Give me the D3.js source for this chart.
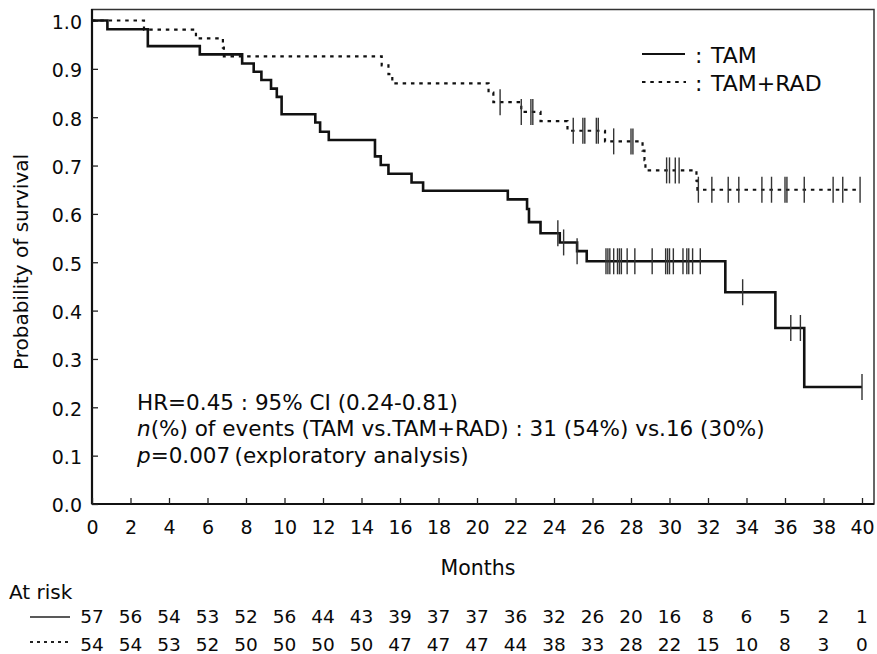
<!DOCTYPE html>
<html>
<head>
<meta charset="utf-8">
<script src="https://cdn.jsdelivr.net/npm/d3@7"></script>
<style>
  body { margin: 0; background: #fff; }
  svg text { font-family: "DejaVu Sans", sans-serif; fill: #0a0a0a; }
</style>
</head>
<body>
<svg id="chart" width="877" height="654"></svg>
<script>
// Kaplan-Meier steps
var tamTimes = [0, 0.8, 2.9, 5.6, 7.8, 8.4, 8.8, 9.3, 9.6, 9.85, 11.6, 11.85, 12.3, 14.7, 15.0, 15.4, 16.6, 17.2,
                21.6, 22.6, 22.7, 23.3, 24.3, 25.2, 25.7, 32.9, 35.5, 37.0, 40];
var tamSurv  = [1.0, 0.982, 0.947, 0.930, 0.911, 0.894, 0.877, 0.859, 0.842, 0.806, 0.789, 0.770, 0.753, 0.719, 0.701, 0.683, 0.665, 0.648,
                0.630, 0.610, 0.583, 0.560, 0.541, 0.523, 0.502, 0.438, 0.364, 0.242, 0.242];
var radTimes = [0, 2.7, 5.4, 6.8, 6.85, 15.05, 15.4, 15.6, 20.6, 20.85, 22.3, 23.3, 24.7, 26.65, 28.6, 28.7, 28.75, 31.4, 31.45, 39.9];
var radSurv  = [1.0, 0.981, 0.963, 0.944, 0.926, 0.907, 0.889, 0.870, 0.851, 0.831, 0.811, 0.792, 0.772, 0.750, 0.731, 0.711, 0.690, 0.669, 0.650, 0.650];

// censoring marks (months)
var tamCensor = [24.2, 24.5, 25.2, 26.7, 26.8, 26.9, 27.1, 27.3, 27.4, 27.5, 27.8, 28.2, 29.1, 29.8, 29.9, 30.0, 30.2,
                 30.7, 30.9, 31.0, 31.2, 31.6, 33.8, 36.3, 36.8, 40.0];
var radCensor = [21.2, 22.3, 22.8, 22.9, 25.0, 25.5, 25.6, 26.2, 26.3, 27.1, 28.0, 28.1, 29.85, 30.0, 30.3, 30.5,
                 31.5, 32.2, 33.05, 33.6, 34.8, 35.3, 36.0, 36.1, 37.0, 38.5, 39.0, 39.9];

var atRiskMonths = d3.range(0, 41, 2);
var tamAtRisk = [57, 56, 54, 53, 52, 56, 44, 43, 39, 37, 37, 36, 32, 26, 20, 16, 8, 6, 5, 2, 1];
var radAtRisk = [54, 54, 53, 52, 50, 50, 50, 50, 47, 47, 47, 44, 38, 33, 28, 22, 15, 10, 8, 3, 0];

var xTicks = d3.range(0, 41, 2);
var yTicks = d3.range(0, 11).map(d => d / 10);

var svg = d3.select('#chart');

var x = d3.scaleLinear().domain([0, 40]).range([92, 862]);
var y = d3.scaleLinear().domain([0, 1]).range([504, 20.5]);

// frame
svg.append('rect')
    .attr('x', x(0)).attr('y', 9.5)
    .attr('width', 874 - x(0)).attr('height', y(0) - 9.5)
    .attr('fill', 'none').attr('stroke', '#333').attr('stroke-width', 1.5);
svg.append('line')
    .attr('x1', x(0)).attr('x2', x(0)).attr('y1', 9).attr('y2', y(0))
    .attr('stroke', '#111').attr('stroke-width', 2.2);
svg.append('line')
    .attr('x1', x(0)).attr('x2', 874).attr('y1', y(0)).attr('y2', y(0))
    .attr('stroke', '#111').attr('stroke-width', 2.2);

// axes, ticks pointing inward
var xAxis = svg.append('g')
    .attr('transform', `translate(0,${y(0)})`)
    .call(d3.axisBottom(x).tickValues(xTicks).tickSizeInner(-6).tickSizeOuter(0).tickPadding(17).tickFormat(d3.format('d')));
var yAxis = svg.append('g')
    .attr('transform', `translate(${x(0)},0)`)
    .call(d3.axisLeft(y).tickValues(yTicks).tickSizeInner(-6).tickSizeOuter(0).tickPadding(10).tickFormat(d3.format('.1f')));
[xAxis, yAxis].forEach(g => {
    g.select('.domain').remove();
    g.selectAll('.tick line').attr('stroke', '#222').attr('stroke-width', 1.3);
    g.selectAll('.tick text').style('font-size', '19px').attr('fill', '#0a0a0a');
});
yAxis.selectAll('.tick text').attr('dy', '0.42em');

// survival curves
var line = d3.line()
    .x(d => x(d[0]))
    .y(d => y(d[1]))
    .curve(d3.curveStepAfter);

var tamPts = tamTimes.map((t, i) => [t, tamSurv[i]]);
var radPts = radTimes.map((t, i) => [t, radSurv[i]]);

svg.append('path')
    .attr('d', line(radPts))
    .attr('fill', 'none').attr('stroke', '#111')
    .attr('stroke-width', 2.2).attr('stroke-dasharray', '3.5,4.8');
svg.append('path')
    .attr('d', line(tamPts))
    .attr('fill', 'none').attr('stroke', '#111')
    .attr('stroke-width', 2.6);

function survAt(times, surv, t) {
    var i = d3.bisectRight(times, t) - 1;
    return surv[Math.max(0, i)];
}

svg.append('g').selectAll('line')
    .data(tamCensor.map(t => [t, survAt(tamTimes, tamSurv, t)]))
    .enter().append('line')
    .attr('x1', d => x(d[0])).attr('x2', d => x(d[0]))
    .attr('y1', d => y(d[1]) - 13).attr('y2', d => y(d[1]) + 13)
    .attr('stroke', '#333').attr('stroke-width', 1.4);
svg.append('g').selectAll('line')
    .data(radCensor.map(t => [t, survAt(radTimes, radSurv, t)]))
    .enter().append('line')
    .attr('x1', d => x(d[0])).attr('x2', d => x(d[0]))
    .attr('y1', d => y(d[1]) - 13).attr('y2', d => y(d[1]) + 13)
    .attr('stroke', '#333').attr('stroke-width', 1.4);

// axis titles
svg.append('text')
    .attr('transform', 'translate(28,262) rotate(-90)')
    .attr('text-anchor', 'middle')
    .style('font-size', '20px')
    .text('Probability of survival');
svg.append('text')
    .attr('x', 478).attr('y', 575)
    .attr('text-anchor', 'middle')
    .style('font-size', '20.5px')
    .text('Months');

// legend
var legend = svg.append('g');
legend.append('line')
    .attr('x1', 642).attr('x2', 685).attr('y1', 54).attr('y2', 54)
    .attr('stroke', '#111').attr('stroke-width', 2.2);
legend.append('line')
    .attr('x1', 642).attr('x2', 686).attr('y1', 82).attr('y2', 82)
    .attr('stroke', '#111').attr('stroke-width', 2.2).attr('stroke-dasharray', '3.5,4.8');
legend.append('text').attr('x', 695).attr('y', 63).style('font-size', '22px').text(':');
legend.append('text').attr('x', 695).attr('y', 91).style('font-size', '22px').text(':');
legend.append('text').attr('x', 711).attr('y', 63).style('font-size', '22px').text('TAM');
legend.append('text').attr('x', 711).attr('y', 91).style('font-size', '22px').text('TAM+RAD');

// statistics note
var note = svg.append('g').style('font-size', '21.5px');
note.append('text').attr('x', 137).attr('y', 410)
    .text('HR=0.45 : 95% CI (0.24-0.81)');
var n2 = note.append('text').attr('x', 137).attr('y', 436);
n2.append('tspan').style('font-style', 'italic').text('n');
n2.append('tspan').text('(%) of events (TAM vs.TAM+RAD) : 31 (54%) vs.16 (30%)');
var n3 = note.append('text').attr('x', 137).attr('y', 463);
n3.append('tspan').style('font-style', 'italic').text('p');
n3.append('tspan').text('=0.007\u2009(exploratory analysis)');

// at-risk table
svg.append('text').attr('x', 9).attr('y', 599).style('font-size', '20px').text('At risk');
svg.append('line')
    .attr('x1', 30).attr('x2', 70).attr('y1', 617).attr('y2', 617)
    .attr('stroke', '#222').attr('stroke-width', 1.6);
svg.append('line')
    .attr('x1', 30).attr('x2', 70).attr('y1', 642).attr('y2', 642)
    .attr('stroke', '#222').attr('stroke-width', 1.8).attr('stroke-dasharray', '3,4');

svg.append('g').selectAll('text')
    .data(tamAtRisk)
    .enter().append('text')
    .attr('x', (d, i) => x(atRiskMonths[i]))
    .attr('y', 623)
    .attr('text-anchor', 'middle')
    .style('font-size', '18.5px')
    .text(d => d);
svg.append('g').selectAll('text')
    .data(radAtRisk)
    .enter().append('text')
    .attr('x', (d, i) => x(atRiskMonths[i]))
    .attr('y', 651)
    .attr('text-anchor', 'middle')
    .style('font-size', '18.5px')
    .text(d => d);
</script>
</body>
</html>
